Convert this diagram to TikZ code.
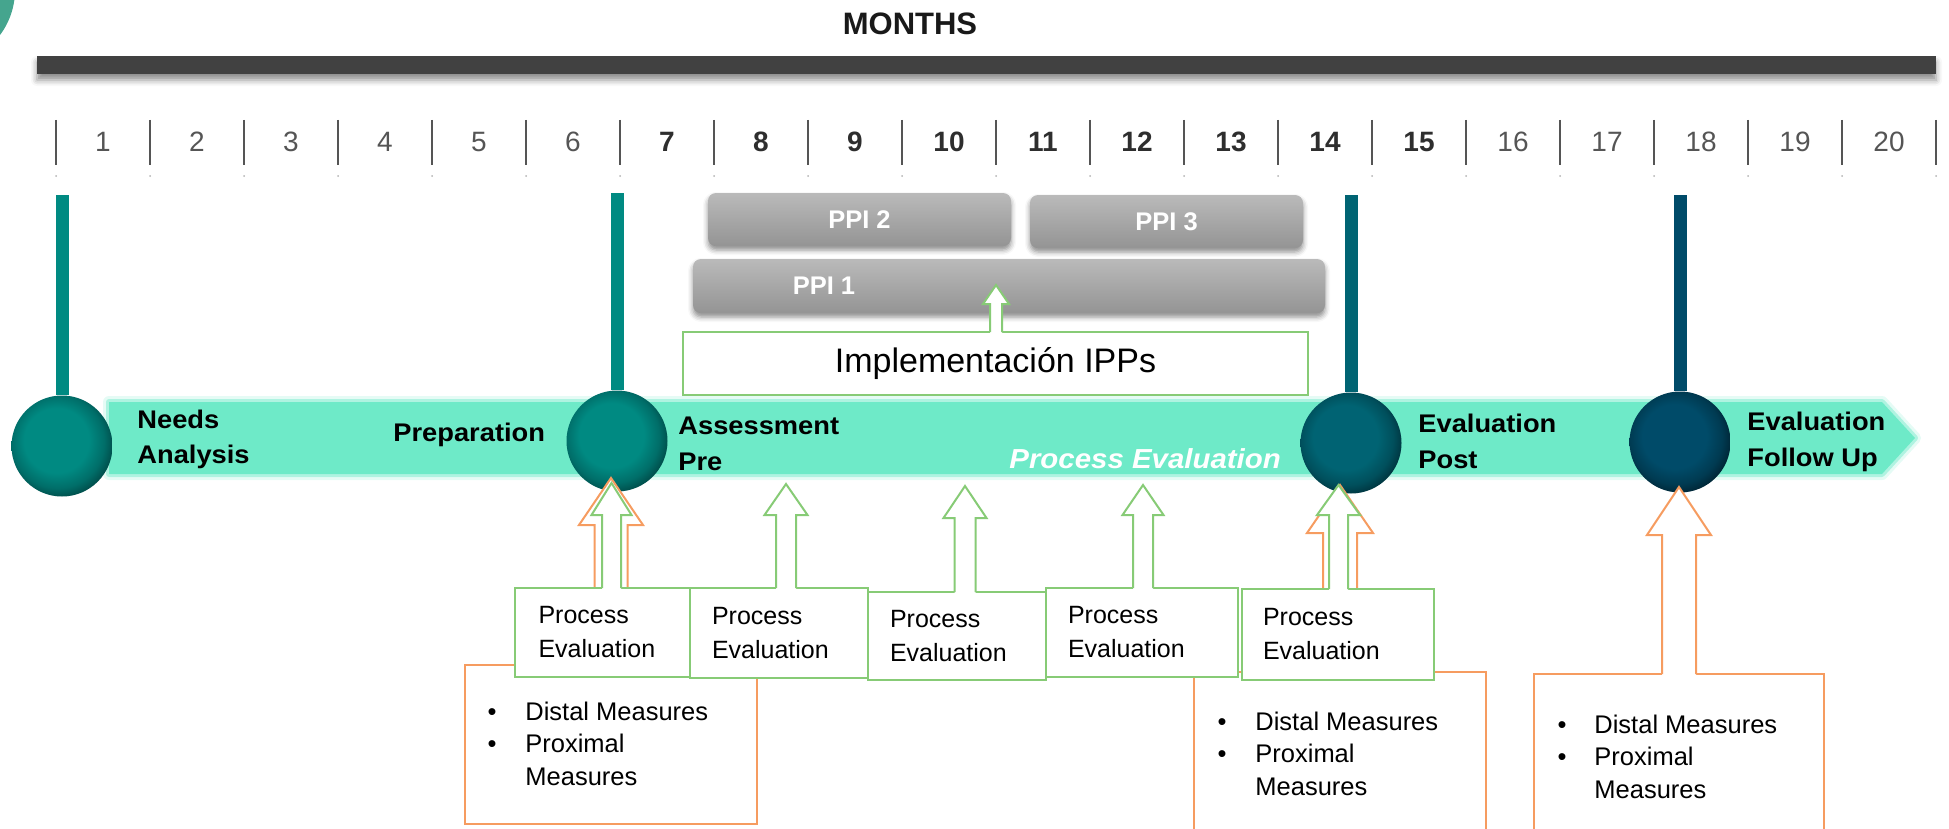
\documentclass[tikz,border=0pt]{standalone}
\usepackage{fontspec}
\setmainfont{Liberation Sans}
\newfontfamily\widesans[FakeStretch=1.07]{Liberation Sans}
\usetikzlibrary{shadows.blur,calc}

\definecolor{mint}{RGB}{110,234,200}
\definecolor{tealA}{RGB}{0,138,130}
\definecolor{tealB}{RGB}{0,100,115}
\definecolor{tealC}{RGB}{0,75,105}
\definecolor{cornerteal}{RGB}{69,165,142}
\definecolor{barcol}{RGB}{65,65,65}
\definecolor{tickcol}{RGB}{85,85,85}
\definecolor{pegreen}{RGB}{135,203,118}
\definecolor{measorange}{RGB}{246,156,96}
\definecolor{ppitop}{RGB}{186,186,186}
\definecolor{ppibot}{RGB}{148,148,148}

% phase balls: flat centre, darker rim towards the lower right
\pgfdeclareradialshading{ballA}{\pgfpoint{-4bp}{4bp}}{rgb(0bp)=(0,.541,.51); rgb(16bp)=(0,.541,.51); rgb(23bp)=(0,.43,.41); rgb(28bp)=(0,.29,.28); rgb(50bp)=(0,.29,.28)}
\pgfdeclareradialshading{ballB}{\pgfpoint{-4bp}{4bp}}{rgb(0bp)=(0,.39,.45); rgb(16bp)=(0,.39,.45); rgb(23bp)=(0,.31,.36); rgb(28bp)=(0,.20,.24); rgb(50bp)=(0,.20,.24)}
\pgfdeclareradialshading{ballC}{\pgfpoint{-4bp}{4bp}}{rgb(0bp)=(0,.294,.41); rgb(16bp)=(0,.294,.41); rgb(23bp)=(0,.23,.32); rgb(28bp)=(0,.14,.20); rgb(50bp)=(0,.14,.20)}

% open block arrow pointing up: style, centre x, tip y, head base y, head half width, shaft half width, foot y
\newcommand{\blockup}[7]{%
  \fill[white] ({#2-#6},{#7+2}) -- ({#2-#6},#4) -- ({#2-#5},#4) -- (#2,#3) -- ({#2+#5},#4) -- ({#2+#6},#4) -- ({#2+#6},{#7+2}) -- cycle;
  \draw[#1] ({#2-#6},#7) -- ({#2-#6},#4) -- ({#2-#5},#4) -- (#2,#3) -- ({#2+#5},#4) -- ({#2+#6},#4) -- ({#2+#6},#7);}

\tikzset{
  phase/.style={circle, inner sep=0pt, minimum size=50.5pt, shade},
  stem/.style={line width=6.5pt, line cap=butt},
  phaselabel/.style={font=\widesans\fontsize{12.75pt}{15pt}\selectfont\bfseries, anchor=base west, inner sep=0pt},
  monthnum/.style={font=\fontsize{14pt}{16pt}\selectfont, text=tickcol, anchor=base, inner sep=0pt},
  monthbold/.style={monthnum, font=\fontsize{14pt}{16pt}\selectfont\bfseries, text=black!82},
  tickmark/.style={draw=tickcol, line width=1.25pt},
  ppibox/.style={rectangle, rounded corners=4pt, top color=ppitop, bottom color=ppibot, inner sep=0pt,
    blur shadow={shadow xshift=0pt, shadow yshift=-2pt, shadow blur radius=2.5pt, shadow opacity=45}},
  ppitext/.style={font=\fontsize{12.75pt}{15pt}\selectfont\bfseries, text=white, inner sep=0pt},
  pebox/.style={rectangle, draw=pegreen, line width=1pt, fill=white, align=left, inner ysep=0pt,
    font=\fontsize{12.5pt}{17pt}\selectfont},
  peline/.style={draw=pegreen, line width=1pt, line join=miter},
  measbox/.style={rectangle, draw=measorange, line width=1pt, fill=white, inner sep=0pt},
  measline/.style={draw=measorange, line width=1pt, line join=miter},
  meas/.style={font=\fontsize{12.75pt}{15pt}\selectfont, anchor=base west, inner sep=0pt},
  bul/.style={font=\fontsize{12.75pt}{15pt}\selectfont, anchor=base, inner sep=0pt},
}

\begin{document}
\begin{tikzpicture}[x=0.5pt,y=-0.5pt]
\useasboundingbox (0,0) rectangle (1949,829);
\begin{scope}
\clip (0,0) rectangle (1949,829);

% corner ornament
\fill[cornerteal] (-60,-10) circle (75);

% month scale
\node[font=\fontsize{15.5pt}{18pt}\selectfont\bfseries, text=black!90, anchor=base, inner sep=0pt] (months) at (910,35) {MONTHS};
\node[rectangle, fill=barcol, minimum width=949.5pt, minimum height=9pt, inner sep=0pt,
  blur shadow={shadow xshift=0pt, shadow yshift=-3pt, shadow blur radius=3pt, shadow opacity=45}] (monthbar) at (986.5,65) {};
\foreach \k in {0,...,20}{
  \draw[tickmark] ({56+94*\k},120) -- ({56+94*\k},165);
  \fill[black!30] ({56+94*\k},176) circle (1);
}
\foreach \k in {1,...,20}{
  \pgfmathtruncatemacro{\isbold}{(\k>6)&&(\k<16)}
  \ifnum\isbold=1
    \node[monthbold] (m\k) at ({56+94*\k-47},152) {\k};
  \else
    \node[monthnum] (m\k) at ({56+94*\k-47},152) {\k};
  \fi
}

% timeline band with soft edge
\def\bandpath{(109,402) -- (1882,402) -- (1915,438) -- (1882,474) -- (109,474) -- cycle}
\draw[mint, line width=6pt, opacity=.18, line join=round] \bandpath;
\draw[mint, line width=3pt, opacity=.45, line join=round] \bandpath;
\fill[mint] \bandpath;

% PPI blocks
\node[ppibox, minimum width=151.5pt, minimum height=26.5pt] (ppi2) at (859.5,219.5) {};
\node[ppitext] (ppi2t) at (ppi2.center) {PPI 2};
\node[ppibox, minimum width=136.5pt, minimum height=26.5pt] (ppi3) at (1166.5,221.5) {};
\node[ppitext] (ppi3t) at (ppi3.center) {PPI 3};
\node[ppibox, minimum width=316pt, minimum height=27pt] (ppi1) at (1009,286) {};
\node[ppitext] (ppi1t) at (824,286) {PPI 1};

% implementation box and its arrow
\node[rectangle, draw=pegreen, line width=1.25pt, fill=white, minimum width=312.5pt, minimum height=31.5pt,
  inner sep=0pt, font=\fontsize{17pt}{19pt}\selectfont] (impl) at (995.5,363.5) {Implementación IPPs};
\blockup{peline}{996}{285}{304}{13}{6}{332}

% phase balls and stems
\node[phase, shading=ballA] (needs) at (62,446) {};
\node[phase, shading=ballA] (pre) at (617,441) {};
\node[phase, shading=ballB] (post) at (1351,443) {};
\node[phase, shading=ballC] (follow) at (1680,442) {};
\coordinate (needsTop) at (62,195);
\coordinate (preTop) at (617,193);
\coordinate (postTop) at (1351,195);
\coordinate (followTop) at (1680,195);
\draw[stem, tealA] (needsTop) -- (needs.north);
\draw[stem, tealA] (preTop) -- (pre.north);
\draw[stem, tealB] (postTop) -- (post.north);
\draw[stem, tealC] (followTop) -- (follow.north);

% phase labels
\node[phaselabel] (l1a) at (137,428) {Needs};
\node[phaselabel] (l1b) at (137,463) {Analysis};
\node[phaselabel] (l2) at (393,441) {Preparation};
\node[phaselabel] (l3a) at (678,434) {Assessment};
\node[phaselabel] (l3b) at (678,470) {Pre};
\node[phaselabel] (l4a) at (1418,432) {Evaluation};
\node[phaselabel] (l4b) at (1418,468) {Post};
\node[phaselabel] (l5a) at (1747,430) {Evaluation};
\node[phaselabel] (l5b) at (1747,466) {Follow Up};
\node[font=\widesans\fontsize{13.75pt}{16pt}\selectfont\bfseries\itshape, text=white, anchor=base west, inner sep=0pt] (pev) at (1009,468) {Process Evaluation};

% measure callouts
\node[measbox, minimum width=146pt, minimum height=79.5pt] (dmA) at (611,744.5) {};
\blockup{measline}{611}{478}{525}{32}{16.5}{665}
\node[measbox, minimum width=146pt, minimum height=89pt] (dmB) at (1340,761) {};
\blockup{measline}{1340}{485}{533}{33}{17}{672}
\node[measbox, minimum width=145pt, minimum height=88pt] (dmC) at (1679,762) {};
\blockup{measline}{1679}{487}{535}{32}{17}{674}

\node[bul] (bA1) at (492,720) {\textbullet};
\node[meas] (tA1) at (525,720) {Distal Measures};
\node[bul] (bA2) at (492,752) {\textbullet};
\node[meas] (tA2) at (525,752) {Proximal};
\node[meas] (tA3) at (525,785) {Measures};

\node[bul] (bB1) at (1222,730) {\textbullet};
\node[meas] (tB1) at (1255,730) {Distal Measures};
\node[bul] (bB2) at (1222,762) {\textbullet};
\node[meas] (tB2) at (1255,762) {Proximal};
\node[meas] (tB3) at (1255,795) {Measures};

\node[bul] (bC1) at (1562,733) {\textbullet};
\node[meas] (tC1) at (1594,733) {Distal Measures};
\node[bul] (bC2) at (1562,765) {\textbullet};
\node[meas] (tC2) at (1594,765) {Proximal};
\node[meas] (tC3) at (1594,798) {Measures};

% process evaluation callouts
\node[pebox, minimum width=87.5pt, minimum height=44.5pt, text width=64pt, inner xsep=11.75pt] (peA) at (602.5,632.5) {Process\\Evaluation};
\node[pebox, minimum width=89pt, minimum height=45pt, text width=67pt, inner xsep=11pt] (peB) at (779,633) {Process\\Evaluation};
\node[pebox, minimum width=89pt, minimum height=44pt, text width=67pt, inner xsep=11pt] (peC) at (957,636) {Process\\Evaluation};
\node[pebox, minimum width=96pt, minimum height=44.5pt, text width=74pt, inner xsep=11pt] (peD) at (1142,632.5) {Process\\Evaluation};
\node[pebox, minimum width=96pt, minimum height=45.5pt, text width=75pt, inner xsep=10.5pt] (peE) at (1338,634.5) {Process\\Evaluation};
\blockup{peline}{611.5}{483}{515}{20}{9.5}{588}
\blockup{peline}{786}{484}{515}{21.5}{10}{588}
\blockup{peline}{965}{486}{518}{21.5}{10.5}{592}
\blockup{peline}{1143}{485}{515}{20.5}{10}{588}
\blockup{peline}{1338.5}{485}{515}{21.5}{9.5}{589}

\end{scope}
\end{tikzpicture}
\end{document}
